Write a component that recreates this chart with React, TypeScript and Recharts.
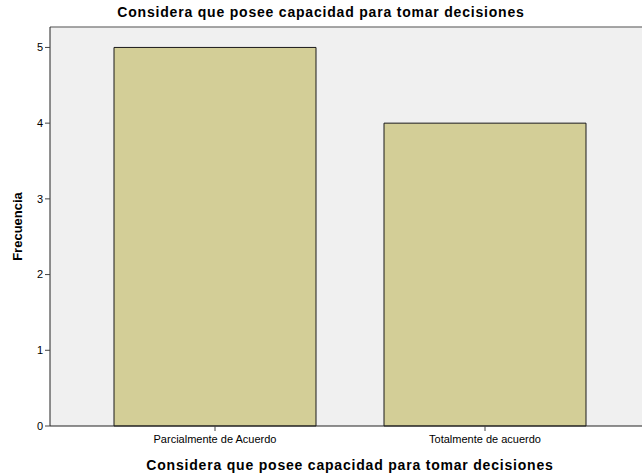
import React from 'react'
import { BarChart, Bar, XAxis, YAxis, CartesianGrid, ReferenceLine } from 'recharts'

const categories = ['Parcialmente de Acuerdo', 'Totalmente de acuerdo']
const frecuencias = [5, 4]
const yTicks = [0, 1, 2, 3, 4, 5]

const data = categories.map((name, i) => ({ name, frecuencia: frecuencias[i] }))

const font = '"Liberation Sans", Arial, sans-serif'
const yMax = 5.27

const App = () => {
  return (
    <div style={{ position: 'fixed', left: 0, top: 0, width: 642, height: 474, overflow: 'hidden', background: '#fff', fontFamily: font }}>
      {/* Title */}
      <div style={{ position: 'absolute', top: 4, left: 0, width: 642, textAlign: 'center', fontSize: 14, fontWeight: 'bold', letterSpacing: 0.8, color: '#000' }}>
        Considera que posee capacidad para tomar decisiones
      </div>
      <div style={{ position: 'absolute', left: 0, top: 0 }}>
        <BarChart
          width={660}
          height={474}
          data={data}
          margin={{ top: 27, right: 10, bottom: 0, left: 0 }}
          barSize={202}
        >
          <CartesianGrid fill="#f0f0f0" horizontal={false} vertical={false} />
          <ReferenceLine y={yMax} stroke="#888" strokeWidth={1.5} />
          <XAxis
            dataKey="name"
            height={48}
            padding={{ left: 30, right: 30 }}
            axisLine={{ stroke: '#222' }}
            tickLine={{ stroke: '#444' }}
            tickSize={5}
            tick={{ fill: '#000', fontSize: 11, fontFamily: font, dy: 2 }}
            label={{ value: 'Considera que posee capacidad para tomar decisiones', position: 'insideBottom', offset: 4, fill: '#000', fontSize: 14, fontWeight: 'bold', fontFamily: font, letterSpacing: 0.8 }}
          />
          <YAxis
            width={50}
            domain={[0, yMax]}
            ticks={yTicks}
            axisLine={{ stroke: '#222' }}
            tickLine={{ stroke: '#444' }}
            tickSize={5}
            tick={{ fill: '#000', fontSize: 11, fontFamily: font }}
            label={{ value: 'Frecuencia', angle: -90, position: 'insideLeft', offset: 17, fill: '#000', fontSize: 13, fontWeight: 'bold', fontFamily: font, style: { textAnchor: 'middle' } }}
          />
          <Bar dataKey="frecuencia" fill="#d3ce97" stroke="#1a1a1a" strokeWidth={1} isAnimationActive={false} />
        </BarChart>
      </div>
    </div>
  )
}

export default App
